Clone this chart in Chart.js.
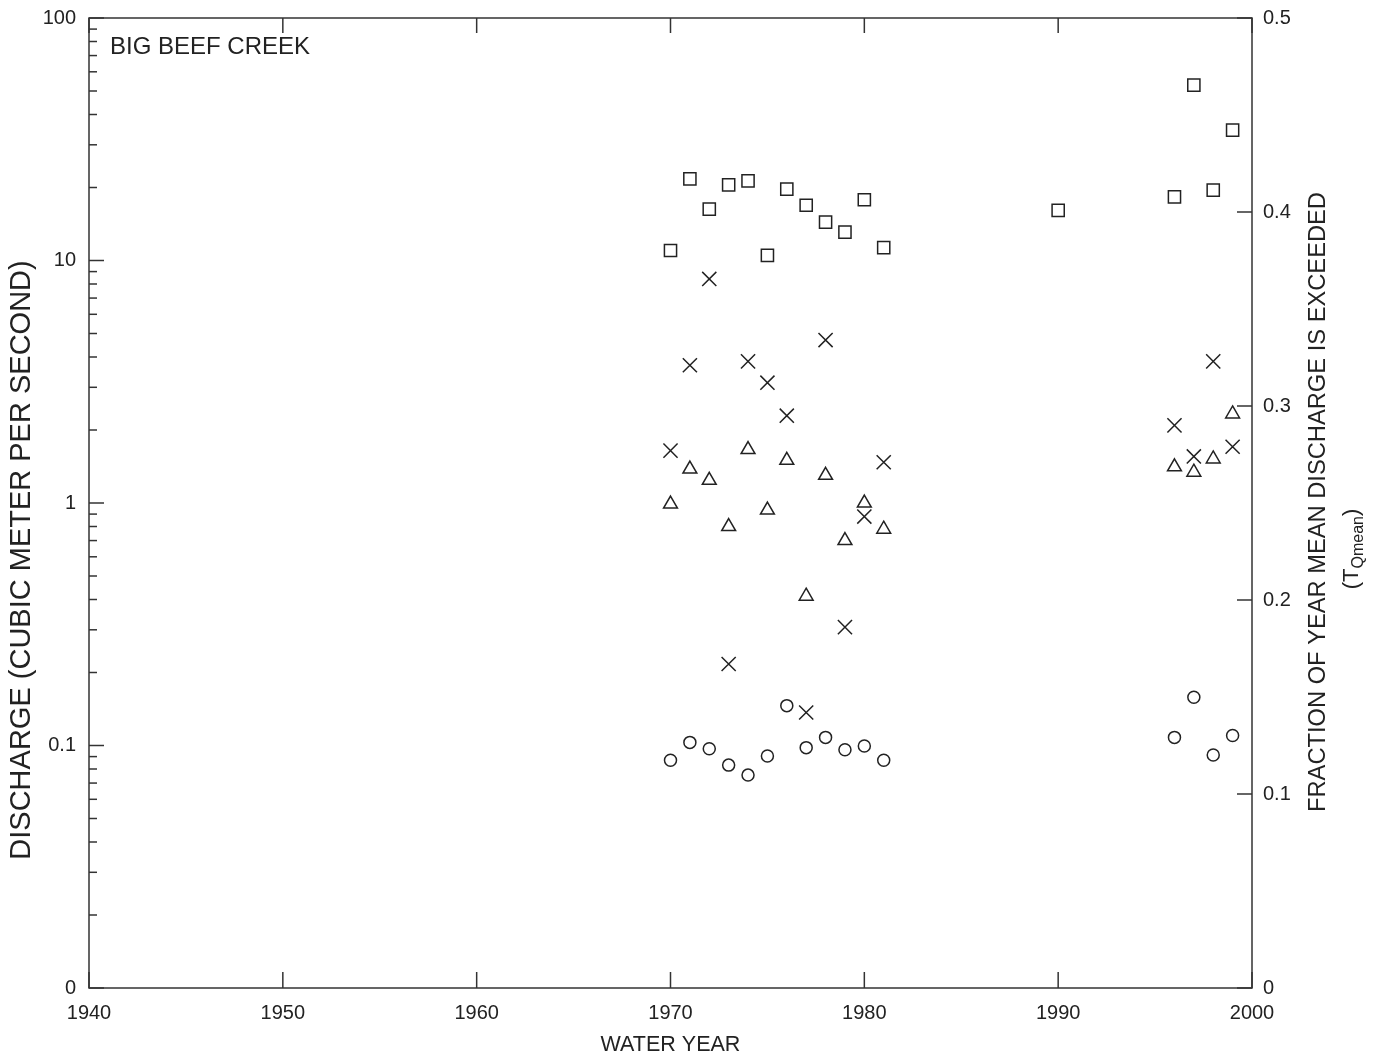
<!DOCTYPE html>
<html><head><meta charset="utf-8">
<script src="https://cdn.jsdelivr.net/npm/chart.js@4.4.1/dist/chart.umd.min.js"></script>
<style>html,body{margin:0;padding:0;background:#fff;}#wrap{width:1379px;height:1057px;}</style>
</head><body><div id="wrap"><canvas id="c" width="1379" height="1057"></canvas></div>
<script>
// ---- data ----
const years      = [1970,1971,1972,1973,1974,1975,1976,1977,1978,1979,1980,1981,1990,1996,1997,1998,1999];
const peakFlow   = [11.0,21.7,16.3,20.5,21.3,10.5,19.7,16.9,14.4,13.1,17.8,11.3,16.1,18.3,52.9,19.5,34.5];
const meanFlow   = [0.99,1.38,1.24,0.80,1.66,0.935,1.50,0.413,1.30,0.70,1.0,0.78,null,1.41,1.34,1.52,2.33];
const lowFlow    = [0.087,0.103,0.097,0.083,0.0755,0.0905,0.146,0.098,0.108,0.096,0.0995,0.087,null,0.108,0.158,0.0914,0.110];
const tqMean     = [0.277,0.321,0.3655,0.167,0.323,0.312,0.295,0.142,0.334,0.186,0.243,0.271,null,0.290,0.274,0.323,0.279];
const xTicks     = [1940,1950,1960,1970,1980,1990,2000];
const leftMajor  = [0.01,0.1,1,10,100];
const leftLabels = ['0','0.1','1','10','100'];
const minorMult  = [2,3,4,5,6,7,8,9];
const rightTicks = [0,0.1,0.2,0.3,0.4,0.5];
const rightLabels= ['0','0.1','0.2','0.3','0.4','0.5'];
const siteName   = 'BIG BEEF CREEK';
const xTitle     = 'WATER YEAR';
const yTitle     = 'DISCHARGE (CUBIC METER PER SECOND)';
const y2Title    = 'FRACTION OF YEAR MEAN DISCHARGE IS EXCEEDED';

const FONT = '"Liberation Sans", Arial, Helvetica, sans-serif';
const INK = '#222';
const LINE = '#333';

function pts(vals){ return years.map((y,i)=>vals[i]==null?null:{x:y,y:vals[i]}).filter(p=>p); }
function noPad(s){ s.paddingTop=0; s.paddingBottom=0; s.paddingLeft=0; s.paddingRight=0; }

const frameTicks = {
  id:'frameTicks',
  beforeDatasetsDraw(chart){
    const ctx = chart.ctx, a = chart.chartArea;
    const xs = chart.scales.x, yl = chart.scales.y, yr = chart.scales.y2;
    ctx.save();
    ctx.strokeStyle = LINE; ctx.lineWidth = 1.5;
    ctx.strokeRect(a.left, a.top, a.right-a.left, a.bottom-a.top);
    const seg=(x1,y1,x2,y2)=>{ctx.beginPath();ctx.moveTo(x1,y1);ctx.lineTo(x2,y2);ctx.stroke();};
    xTicks.forEach(v=>{const p=xs.getPixelForValue(v); seg(p,a.bottom,p,a.bottom-16); seg(p,a.top,p,a.top+15);});
    leftMajor.forEach((d,i)=>{
      const p=yl.getPixelForValue(d); seg(a.left,p,a.left+15,p);
      if(i<leftMajor.length-1) minorMult.forEach(m=>{const q=yl.getPixelForValue(m*d); seg(a.left,q,a.left+8,q);});
    });
    rightTicks.forEach(v=>{const p=yr.getPixelForValue(v); seg(a.right,p,a.right-15,p);});
    ctx.restore();
  },
  afterDraw(chart){
    const ctx = chart.ctx, a = chart.chartArea;
    ctx.save();
    ctx.fillStyle = INK;
    ctx.font = '24px '+FONT; ctx.textAlign='left'; ctx.textBaseline='middle';
    ctx.fillText(siteName, a.left+21, 47);
    ctx.font = '21.5px '+FONT; ctx.textAlign='center';
    ctx.fillText(xTitle, (a.left+a.right)/2, 1045);
    ctx.save(); ctx.translate(22, 560); ctx.rotate(-Math.PI/2);
    ctx.font = '29px '+FONT; ctx.textAlign='center'; ctx.textBaseline='middle';
    ctx.fillText(yTitle, 0, 0); ctx.restore();
    ctx.save(); ctx.translate(1318, 502); ctx.rotate(-Math.PI/2);
    ctx.font = '23.7px '+FONT; ctx.textAlign='center'; ctx.textBaseline='middle';
    ctx.fillText(y2Title, 0, 0); ctx.restore();
    ctx.save(); ctx.translate(1350, 549); ctx.rotate(-Math.PI/2);
    ctx.textBaseline='alphabetic'; ctx.textAlign='left';
    const big='22px '+FONT, small='16px '+FONT;
    ctx.font=big; const w1=ctx.measureText('(T').width, w3=ctx.measureText(')').width;
    ctx.font=small; const w2=ctx.measureText('Qmean').width;
    let x0=-(w1+w2+w3)/2; const base=8;
    ctx.font=big; ctx.fillText('(T',x0,base); x0+=w1;
    ctx.font=small; ctx.fillText('Qmean',x0,base+5); x0+=w2;
    ctx.font=big; ctx.fillText(')',x0,base);
    ctx.restore();
    ctx.restore();
  }
};

const common = {showLine:false, borderColor:INK, backgroundColor:'rgba(0,0,0,0)', borderWidth:1.5};

new Chart(document.getElementById('c'), {
  type:'scatter',
  data:{datasets:[
    Object.assign({label:'Peak', data:pts(peakFlow), pointStyle:'rect', pointRadius:8.6, yAxisID:'y'}, common),
    Object.assign({label:'Mean', data:pts(meanFlow), pointStyle:'triangle', pointRadius:8, yAxisID:'y'}, common),
    Object.assign({label:'Low', data:pts(lowFlow), pointStyle:'circle', pointRadius:6, yAxisID:'y'}, common),
    Object.assign({label:'TQmean', data:pts(tqMean), pointStyle:'crossRot', pointRadius:10, yAxisID:'y2'}, common)
  ]},
  options:{
    responsive:false, devicePixelRatio:1, animation:false,
    layout:{padding:{top:18,left:0,right:0,bottom:0}},
    plugins:{legend:{display:false}, tooltip:{enabled:false}},
    scales:{
      x:{type:'linear', min:1940, max:2000, grid:{display:false, drawTicks:false}, border:{display:false},
         afterBuildTicks:s=>{s.ticks=xTicks.map(v=>({value:v}));},
         ticks:{padding:13, color:INK, font:{family:FONT,size:20}, maxRotation:0, autoSkip:false, callback:v=>String(v)},
         afterFit:s=>{s.height=69; noPad(s);}},
      y:{type:'logarithmic', position:'left', min:0.01, max:100, grid:{display:false, drawTicks:false}, border:{display:false},
         afterBuildTicks:s=>{s.ticks=leftMajor.map(v=>({value:v}));},
         ticks:{padding:13, color:INK, font:{family:FONT,size:20}, autoSkip:false,
           callback:(v)=>{const i=leftMajor.findIndex(m=>Math.abs(m-v)/m<1e-6); return i<0?'':leftLabels[i];}},
         afterFit:s=>{s.width=89; noPad(s);}},
      y2:{type:'linear', position:'right', min:0, max:0.5, grid:{display:false, drawTicks:false}, border:{display:false},
         afterBuildTicks:s=>{s.ticks=rightTicks.map(v=>({value:v}));},
         ticks:{padding:11, color:INK, font:{family:FONT,size:20}, autoSkip:false,
           callback:(v)=>{const i=rightTicks.findIndex(m=>Math.abs(m-v)<1e-9); return i<0?'':rightLabels[i];}},
         afterFit:s=>{s.width=127; noPad(s);}}
    }
  },
  plugins:[frameTicks]
});
</script></body></html>
